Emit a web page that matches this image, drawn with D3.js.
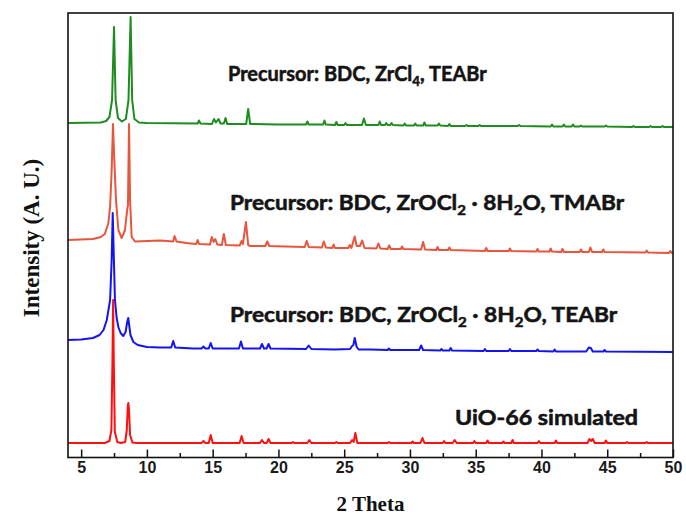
<!DOCTYPE html>
<html><head><meta charset="utf-8">
<script src="https://cdn.jsdelivr.net/npm/d3@7"></script>
<style>body{margin:0;background:#fff}svg{display:block}</style>
</head><body><svg id="c" width="686" height="527"></svg>
<script>
// ---------- DATA (2θ in degrees, intensity in a.u., stacked) ----------
const simulated = [[4,140],[6.8,140],[7.15,160],[7.3,270],[7.38,970],[7.43,1570],[7.48,970],[7.56,250],[7.75,150],[8.0,140],[8.35,150],[8.47,270],[8.55,520],[8.59,540],[8.64,470],[8.72,220],[8.9,145],[9.2,140],
[14.15,140],[14.3,160],[14.45,140],[14.7,140],[14.85,220],[15.0,140],[17.05,140],[17.2,210],[17.35,140],[18.6,140],[18.75,170],[18.9,140],[19.1,140],[19.25,180],[19.4,140],
[21.0,140],[21.1,150],[21.2,140],[22.2,140],[22.35,170],[22.5,140],[24.3,140],[24.4,150],[24.5,140],[25.45,140],[25.6,170],[25.72,150],[25.85,240],[26.0,140],
[28.3,140],[28.4,150],[28.5,140],[30.1,140],[30.2,155],[30.3,140],[30.8,140],[30.95,190],[31.1,140],[32.5,140],[32.6,160],[32.7,140],[33.25,140],[33.4,170],[33.55,140],
[34.8,140],[34.9,160],[35.0,140],[35.8,140],[35.9,165],[36.0,140],[37.0,140],[37.1,155],[37.2,140],[37.7,140],[37.8,170],[37.9,140],[39.7,140],[39.8,160],[39.9,140],
[41.0,140],[41.1,165],[41.2,140],[43.5,140],[43.65,180],[43.77,160],[43.9,180],[44.05,140],[44.8,140],[44.9,165],[45.0,140],[46.4,140],[46.5,150],[46.6,140],[47.9,140],[48.0,150],[48.1,140],[50,140]];

const teabrZrOCl2 = [[4,1170],[5.0,1175],[5.9,1190],[6.4,1220],[6.7,1270],[6.95,1370],[7.2,1570],[7.32,1970],[7.4,2440],[7.48,2020],[7.57,1570],[7.7,1390],[7.83,1300],[8.0,1240],[8.2,1210],[8.38,1250],[8.5,1350],[8.58,1390],[8.66,1310],[8.75,1220],[8.97,1150],[9.3,1120],[10.0,1100],[11.0,1095],
[11.85,1095],[12.0,1160],[12.15,1095],[13.5,1085],[14.15,1085],[14.3,1105],[14.45,1085],[14.7,1085],[14.85,1140],[15.0,1085],[17.0,1085],[17.15,1155],[17.3,1085],[18.6,1085],[18.75,1130],[18.9,1085],[19.1,1085],[19.25,1130],[19.4,1085],
[22.1,1080],[22.3,1115],[22.5,1080],[24.3,1075],[25.45,1080],[25.6,1110],[25.7,1120],[25.8,1190],[25.95,1100],[26.1,1075],[27.0,1075],[28.3,1070],[28.4,1085],[28.5,1070],[30.7,1070],[30.85,1115],[31.0,1070],
[32.3,1065],[32.4,1080],[32.5,1065],[33.0,1065],[33.1,1090],[33.2,1065],[35.6,1060],[35.7,1080],[35.8,1060],[37.5,1060],[37.6,1080],[37.7,1060],[39.6,1060],[39.7,1075],[39.8,1060],
[40.9,1055],[41.0,1075],[41.1,1055],[43.4,1055],[43.6,1095],[43.75,1090],[43.9,1055],[44.7,1055],[44.8,1070],[44.9,1055],[50,1050]];

const tmabrZrOCl2 = [[4,2170],[5.9,2180],[6.5,2200],[6.8,2230],[7.07,2340],[7.2,2500],[7.32,2870],[7.42,3330],[7.52,2970],[7.65,2570],[7.83,2270],[8.08,2190],[8.33,2270],[8.5,2470],[8.56,2520],[8.64,3330],[8.72,2570],[8.84,2200],[9.1,2155],[11.0,2165],
[12.0,2155],[12.1,2210],[12.25,2155],[13.0,2140],[13.75,2130],[13.86,2170],[13.97,2130],[14.8,2125],[14.93,2200],[15.07,2150],[15.2,2180],[15.35,2125],[15.7,2120],[15.85,2230],[16.0,2120],
[17.05,2115],[17.2,2160],[17.3,2130],[17.53,2350],[17.7,2120],[17.85,2110],[19.0,2110],[19.15,2155],[19.3,2110],[20.5,2105],[22.0,2100],[22.15,2160],[22.3,2100],[23.3,2095],[23.45,2155],[23.6,2095],
[24.1,2090],[24.2,2125],[24.3,2090],[25.3,2090],[25.42,2120],[25.55,2090],[25.8,2205],[25.95,2110],[26.2,2110],[26.37,2165],[26.55,2090],[27.45,2085],[27.6,2135],[27.75,2085],
[28.3,2080],[28.42,2115],[28.55,2080],[29.3,2080],[29.4,2105],[29.5,2080],[30.85,2075],[31.0,2150],[31.15,2075],[32.0,2070],[32.1,2100],[32.2,2070],[32.9,2070],[33.0,2095],[33.1,2070],
[35.7,2060],[35.8,2090],[35.9,2060],[37.5,2060],[37.6,2085],[37.7,2060],[39.6,2055],[39.7,2080],[39.8,2055],[40.6,2055],[40.7,2085],[40.8,2055],[41.5,2050],[41.6,2080],[41.7,2050],
[42.9,2050],[43.0,2075],[43.1,2050],[43.6,2050],[43.72,2095],[43.85,2050],[44.6,2050],[44.7,2075],[44.8,2050],[47.9,2045],[48.0,2065],[48.1,2045],[49.7,2040],[49.8,2060],[49.9,2040],[50,2040]];

const teabrZrCl4 = [[4,3340],[6.5,3345],[6.9,3360],[7.15,3400],[7.35,3570],[7.5,4300],[7.62,3570],[7.8,3390],[8.1,3355],[8.4,3380],[8.6,3570],[8.76,4400],[8.88,3570],[9.05,3380],[9.4,3345],[10,3340],
[13.85,3335],[13.96,3365],[14.07,3335],[14.95,3330],[15.1,3380],[15.25,3345],[15.45,3380],[15.6,3335],[15.85,3335],[15.98,3390],[16.1,3330],[17.55,3330],[17.7,3480],[17.85,3330],[20.0,3325],
[22.1,3325],[22.2,3355],[22.3,3325],[23.4,3325],[23.5,3365],[23.6,3325],[24.3,3320],[24.4,3350],[24.5,3320],[25.0,3320],[25.1,3340],[25.2,3320],[26.35,3320],[26.5,3385],[26.65,3320],
[27.6,3320],[27.7,3355],[27.8,3320],[28.1,3320],[28.2,3340],[28.3,3320],[28.5,3320],[28.6,3340],[28.7,3320],[29.5,3315],[29.6,3335],[29.7,3315],[30.3,3315],[30.4,3335],[30.5,3315],
[31.0,3315],[31.1,3345],[31.2,3315],[32.1,3315],[32.2,3335],[32.3,3315],[32.9,3310],[33.0,3330],[33.1,3310],[34.2,3310],[34.3,3320],[34.4,3310],[35.2,3310],[35.3,3320],[35.4,3310],
[38.2,3310],[38.3,3320],[38.4,3310],[40.7,3305],[40.8,3325],[40.9,3305],[41.6,3305],[41.7,3325],[41.8,3305],[42.3,3305],[42.4,3325],[42.5,3305],[42.9,3305],[43.0,3315],[43.1,3305],
[44.8,3305],[44.9,3315],[45.0,3305],[46.9,3300],[47.0,3310],[47.1,3300],[48.2,3300],[48.3,3310],[48.4,3300],[49.1,3300],[49.2,3310],[49.3,3300],[50,3300]];

const xTicks = [5,10,15,20,25,30,35,40,45,50];
const xMinorTicks = [7.5,12.5,17.5,22.5,27.5,32.5,37.5,42.5,47.5];

// label texts: [text, isSubscript]
const labelGreen = [["Precursor: BDC, ZrCl",0],["4",1],[", TEABr",0]];
const labelOrange = [["Precursor: BDC, ZrOCl",0],["2",1],[" · 8H",0],["2",1],["O, TMABr",0]];
const labelBlue = [["Precursor: BDC, ZrOCl",0],["2",1],[" · 8H",0],["2",1],["O, TEABr",0]];
const labelRed = [["UiO-66 simulated",0]];

// ---------- DRAWING ----------
const svg = d3.select("#c");
const L = 68, R = 673, T = 13, B = 457.5;
const x = d3.scaleLinear().domain([4,50]).range([L,R]);
const y = d3.scaleLinear().domain([0,4440]).range([457,13]);
const line = d3.line().x(d => x(d[0])).y(d => y(d[1]));

svg.append("defs").append("clipPath").attr("id","clip")
  .append("rect").attr("x",L).attr("y",T).attr("width",R-L).attr("height",B-T);

const g = svg.append("g").attr("clip-path","url(#clip)");
const series = [
  [simulated, "#ff1010"],
  [teabrZrOCl2, "#1414f0"],
  [tmabrZrOCl2, "#e8553c"],
  [teabrZrCl4, "#1e8c1e"]
];
series.forEach(([d,c]) => {
  g.append("path").datum(d).attr("d", line).attr("fill","none")
    .attr("stroke", c).attr("stroke-width", 2).attr("stroke-linejoin","round");
});

// frame
svg.append("rect").attr("x",L).attr("y",T).attr("width",R-L).attr("height",B-T)
  .attr("fill","none").attr("stroke","#111").attr("stroke-width",1.6);

// bottom axis (ticks inward)
const axis = d3.axisBottom(x).tickValues(xTicks).tickSizeInner(-8).tickSizeOuter(0).tickPadding(4);
const ax = svg.append("g").attr("transform",`translate(0,${B})`).call(axis);
ax.select(".domain").remove();
ax.selectAll(".tick line").attr("stroke","#111").attr("stroke-width",1.5);
ax.selectAll(".tick text").attr("font-family","'Liberation Sans', Arial, sans-serif")
  .attr("font-weight","bold").attr("font-size",16).attr("fill","#1a1a1a");
const minor = d3.axisBottom(x).tickValues(xMinorTicks).tickSizeInner(-4.5).tickSizeOuter(0).tickFormat("");
const mx = svg.append("g").attr("transform",`translate(0,${B})`).call(minor);
mx.select(".domain").remove();
mx.selectAll(".tick line").attr("stroke","#111").attr("stroke-width",1.5);

// axis titles
svg.append("text").attr("x",(L+R)/2).attr("y",511).attr("text-anchor","middle")
  .attr("font-family","'Liberation Serif', 'Times New Roman', serif").attr("font-weight","bold")
  .attr("font-size",21).attr("fill","#111").text("2 Theta");
svg.append("text").attr("transform","translate(39,238) rotate(-90)").attr("text-anchor","middle")
  .attr("font-family","'Liberation Serif', 'Times New Roman', serif").attr("font-weight","bold")
  .attr("font-size",23).attr("fill","#111").text("Intensity (A. U.)");

// annotation labels
function drawLabel(parts, x0, y0, targetW){
  const t = svg.append("text").attr("font-family","Lato, 'Open Sans', sans-serif")
    .attr("font-weight",700).attr("font-size",21).attr("fill","#141414")
    .attr("stroke","#141414").attr("stroke-width",0.55).attr("stroke-linejoin","round");
  let sub = false;
  parts.forEach(([s,isSub]) => {
    const ts = t.append("tspan").text(s);
    if (isSub && !sub) { ts.attr("dy",5).attr("font-size",14); sub = true; }
    else if (isSub) { ts.attr("font-size",14); }
    else if (!isSub && sub) { ts.attr("dy",-5); sub = false; }
  });
  t.attr("transform",`translate(${x0},${y0})`);
  const fit = () => {
    const w = t.node().getBBox().width;
    t.attr("transform",`translate(${x0},${y0}) scale(${targetW / w},1)`);
  };
  fit();
  if (document.fonts && document.fonts.ready) document.fonts.ready.then(fit);
}
drawLabel(labelGreen, 228, 81, 259);
drawLabel(labelOrange, 230, 210, 395);
drawLabel(labelBlue, 230, 322, 388);
drawLabel(labelRed, 455, 425, 183);
</script></body></html>
